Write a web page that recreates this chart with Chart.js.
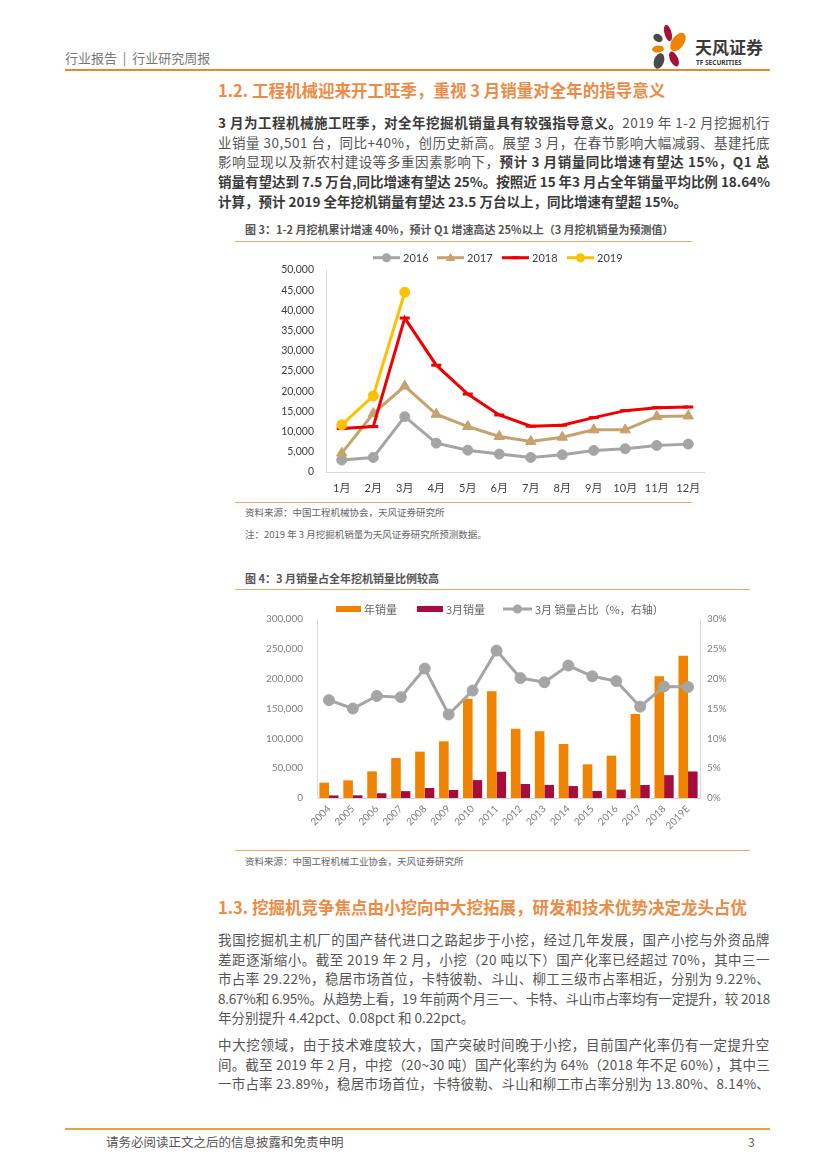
<!DOCTYPE html>
<html>
<head>
<meta charset="utf-8">
<script src="https://cdn.jsdelivr.net/npm/chart.js@4.4.1/dist/chart.umd.min.js"></script>
<style>
  html, body { margin: 0; padding: 0; background: #fff; }
  body { width: 827px; height: 1169px; position: relative; overflow: hidden;
         font-family: 'Noto Sans CJK SC', 'Noto Sans', sans-serif; color: #555; }
  .t { position: absolute; white-space: nowrap; line-height: 1; transform: translateY(-50%); }
  .rule { position: absolute; height: 0; }
  .ln { position: absolute; left: 218px; white-space: nowrap; line-height: 1;
        transform: translateY(-50%); font-size: 13.5px; color: #555; display: inline-block; }
  .ln b { color: #3a3a3a; font-weight: 700; }
  .sec { position: absolute; left: 218px; white-space: nowrap; line-height: 1; transform: translateY(-50%);
         font-size: 16.5px; font-weight: 700; color: #ED8B45; }
  .cap { position: absolute; left: 245px; white-space: nowrap; line-height: 1; transform: translateY(-50%);
         font-size: 11px; font-weight: 700; color: #555; }
  .src { position: absolute; left: 245px; white-space: nowrap; line-height: 1; transform: translateY(-50%);
         font-size: 9.5px; color: #666; }
  canvas { position: absolute; }
</style>
</head>
<body>

<!-- header -->
<div class="t" style="left:65px; top:57px; font-size:13px; color:#777;">行业报告 &nbsp;|&nbsp; 行业研究周报</div>
<svg style="position:absolute; left:640px; top:20px;" width="140" height="55">
  <ellipse cx="28" cy="13" rx="3.5" ry="8.5" fill="#A3123A" transform="rotate(-15 28 13)"/>
  <ellipse cx="38" cy="22" rx="6" ry="10.5" fill="#F08300" transform="rotate(35 38 22)"/>
  <ellipse cx="18" cy="18" rx="5" ry="3.8" fill="#4A4A4A" transform="rotate(35 18 18)"/>
  <ellipse cx="18" cy="29" rx="6" ry="3.5" fill="#F08300" transform="rotate(-5 18 29)"/>
  <ellipse cx="34" cy="39" rx="4" ry="8" fill="#A3123A" transform="rotate(-25 34 39)"/>
  <ellipse cx="19" cy="41" rx="5" ry="8" fill="#4A4A4A" transform="rotate(20 19 41)"/>
  <text x="55" y="34" font-size="17" font-weight="700" fill="#3a3a3a" font-family="Noto Sans CJK SC">天风证券</text>
  <text x="56" y="45" font-size="6.5" font-weight="700" fill="#3a3a3a" font-family="Noto Sans">TF SECURITIES</text>
</svg>
<div class="rule" style="left:65px; top:69px; width:705px; border-top:2px solid #E8892F;"></div>

<!-- section 1.2 -->
<div class="sec" style="top:90px;">1.2. 工程机械迎来开工旺季，重视 3 月销量对全年的指导意义</div>
<div class="ln j" style="top:123px;"><b>3 月为工程机械施工旺季，对全年挖掘机销量具有较强指导意义。</b>2019 年 1-2 月挖掘机行</div>
<div class="ln j" style="top:142.5px;">业销量 30,501 台，同比+40%，创历史新高。展望 3 月，在春节影响大幅减弱、基建托底</div>
<div class="ln j" style="top:162px;">影响显现以及新农村建设等多重因素影响下，<b>预计 3 月销量同比增速有望达 15%，Q1 总</b></div>
<div class="ln j" style="top:182px;"><b>销量有望达到 7.5 万台,同比增速有望达 25%。按照近 15 年3 月占全年销量平均比例 18.64%</b></div>
<div class="ln" style="top:201.5px;"><b>计算，预计 2019 全年挖机销量有望达 23.5 万台以上，同比增速有望超 15%。</b></div>

<!-- figure 3 -->
<div class="cap" style="top:229px;">图 3：1-2 月挖机累计增速 40%，预计 Q1 增速高达 25%以上（3 月挖机销量为预测值）</div>
<div class="rule" style="left:235px; top:241px; width:457px; border-top:1px solid #EFA66A;"></div>
<canvas id="c1" width="480" height="256" style="left:235px; top:245px;"></canvas>
<div class="rule" style="left:235px; top:502px; width:457px; border-top:1px solid #EFA66A;"></div>
<div class="src" style="top:513px;">资料来源：中国工程机械协会，天风证券研究所</div>
<div class="src" style="top:535px;">注：2019 年 3 月挖掘机销量为天风证券研究所预测数据。</div>

<!-- figure 4 -->
<div class="cap" style="top:578px;">图 4：3 月销量占全年挖机销量比例较高</div>
<div class="rule" style="left:235px; top:589px; width:515px; border-top:1px solid #EFA66A;"></div>
<canvas id="c2" width="500" height="252" style="left:235px; top:595px;"></canvas>
<div class="rule" style="left:235px; top:850px; width:515px; border-top:1px solid #EFA66A;"></div>
<div class="src" style="top:862px;">资料来源：中国工程机械工业协会，天风证券研究所</div>

<!-- section 1.3 -->
<div class="sec" style="top:906.5px;">1.3. 挖掘机竞争焦点由小挖向中大挖拓展，研发和技术优势决定龙头占优</div>
<div class="ln j" style="top:940px;">我国挖掘机主机厂的国产替代进口之路起步于小挖，经过几年发展，国产小挖与外资品牌</div>
<div class="ln j" style="top:959.5px;">差距逐渐缩小。截至 2019 年 2 月，小挖（20 吨以下）国产化率已经超过 70%，其中三一</div>
<div class="ln j" style="top:979px;">市占率 29.22%，稳居市场首位，卡特彼勒、斗山、柳工三级市占率相近，分别为 9.22%、</div>
<div class="ln j" style="top:998.5px;">8.67%和 6.95%。从趋势上看，19 年前两个月三一、卡特、斗山市占率均有一定提升，较 2018</div>
<div class="ln" style="top:1018px;">年分别提升 4.42pct、0.08pct 和 0.22pct。</div>
<div class="ln j" style="top:1045px;">中大挖领域，由于技术难度较大，国产突破时间晚于小挖，目前国产化率仍有一定提升空</div>
<div class="ln j" style="top:1064.5px;">间。截至 2019 年 2 月，中挖（20~30 吨）国产化率约为 64%（2018 年不足 60%），其中三</div>
<div class="ln j" style="top:1084px;">一市占率 23.89%，稳居市场首位，卡特彼勒、斗山和柳工市占率分别为 13.80%、8.14%、</div>

<!-- footer -->
<div class="rule" style="left:65px; top:1128px; width:705px; border-top:2px solid #EBA13A;"></div>
<div class="t" style="left:106px; top:1142px; font-size:12.5px; color:#555;">请务必阅读正文之后的信息披露和免责申明</div>
<div class="t" style="left:748px; top:1142px; font-size:12px; color:#666;">3</div>

<script>
// 图3 data
const months = ['1月', '2月', '3月', '4月', '5月', '6月', '7月', '8月', '9月', '10月', '11月', '12月'];
const sales2016 = [2960, 3600, 13700, 7150, 5400, 4430, 3600, 4270, 5340, 5750, 6570, 6900];
const sales2017 = [4680, 14450, 21270, 14290, 11250, 8790, 7550, 8620, 10430, 10430, 13710, 13880];
const sales2018 = [10750, 11250, 38100, 26440, 19300, 14120, 11330, 11580, 13460, 15190, 15930, 16090];
const sales2019 = [11660, 18840, 44500];

// 图4 data
const years = ['2004', '2005', '2006', '2007', '2008', '2009', '2010', '2011', '2012', '2013', '2014', '2015', '2016', '2017', '2018', '2019E'];
const annualSales = [25700, 29600, 44700, 67000, 77700, 95000, 166500, 178800, 116000, 112000, 90500, 56400, 71000, 140800, 204000, 238500];
const marchSales = [4300, 4500, 8000, 11500, 16800, 13400, 30000, 44000, 23500, 22000, 20000, 11700, 14000, 21800, 38300, 44500];
const marchShare = [16.4, 15.0, 17.1, 16.9, 21.7, 14.0, 18.0, 24.7, 20.1, 19.4, 22.2, 20.4, 19.6, 15.3, 18.7, 18.6];

// line up the body text to the column width
document.fonts.ready.then(() => {
  document.querySelectorAll('.ln.j').forEach(el => {
    const w = el.getBoundingClientRect().width;
    const n = el.textContent.length;
    el.style.letterSpacing = ((552 - w) / n) + 'px';
  });
});

Chart.defaults.font.family = "Lato, 'Noto Sans CJK SC', sans-serif";

function drawMarker(ctx, style, x, y, r, color) {
  ctx.fillStyle = color;
  ctx.strokeStyle = color;
  ctx.beginPath();
  if (style === 'circle') {
    ctx.arc(x, y, r, 0, Math.PI * 2);
    ctx.fill();
  } else if (style === 'triangle') {
    ctx.moveTo(x, y - r);
    ctx.lineTo(x + r * 0.95, y + r * 0.65);
    ctx.lineTo(x - r * 0.95, y + r * 0.65);
    ctx.closePath();
    ctx.fill();
  } else if (style === 'line') {
    ctx.lineWidth = 3;
    ctx.moveTo(x - r, y);
    ctx.lineTo(x + r, y);
    ctx.stroke();
  }
}

// legend laid out like the Excel one
const manualLegend = {
  id: 'manualLegend',
  afterDraw(chart, args, opts) {
    const ctx = chart.ctx;
    ctx.save();
    ctx.font = opts.font;
    ctx.textBaseline = 'middle';
    opts.items.forEach(it => {
      const ds = chart.data.datasets[it.ds];
      const color = ds.borderColor || ds.backgroundColor;
      if (it.kind === 'box') {
        ctx.fillStyle = ds.backgroundColor;
        ctx.fillRect(it.x, opts.y - 3, it.w, 6);
      } else {
        ctx.strokeStyle = color;
        ctx.lineWidth = 3;
        ctx.beginPath();
        ctx.moveTo(it.x, opts.y);
        ctx.lineTo(it.x + it.w, opts.y);
        ctx.stroke();
        drawMarker(ctx, ds.pointStyle, it.x + it.w / 2, opts.y, it.r, color);
      }
      ctx.fillStyle = opts.color;
      ctx.fillText(ds.label, it.x + it.w + 3, opts.y + 0.5);
    });
    ctx.restore();
  }
};

new Chart(document.getElementById('c1'), {
  type: 'line',
  data: {
    labels: months,
    datasets: [
      { label: '2016', data: sales2016, borderColor: '#A5A5A5', backgroundColor: '#A5A5A5',
        pointStyle: 'circle', pointRadius: 5, pointBorderWidth: 1, borderWidth: 3, order: 4 },
      { label: '2017', data: sales2017, borderColor: '#C6A26D', backgroundColor: '#C6A26D',
        pointStyle: 'triangle', pointRadius: 6, pointBorderWidth: 1, borderWidth: 3, order: 3 },
      { label: '2018', data: sales2018, borderColor: '#F00000', backgroundColor: '#F00000',
        pointStyle: 'line', pointRadius: 5, pointBorderWidth: 3, borderWidth: 3, order: 2 },
      { label: '2019', data: sales2019, borderColor: '#FFC000', backgroundColor: '#FFC000',
        pointStyle: 'circle', pointRadius: 5, pointBorderWidth: 1, borderWidth: 3, order: 1 },
    ],
  },
  options: {
    responsive: false,
    animation: false,
    layout: { padding: { top: 25, right: 11, left: 0, bottom: 0 } },
    elements: { line: { tension: 0 } },
    plugins: {
      legend: { display: false },
      tooltip: { enabled: false },
      manualLegend: {
        y: 12.7, font: "11px Lato, 'Noto Sans CJK SC'", color: '#404040',
        items: [
          { ds: 0, x: 138, w: 27, r: 4.5 },
          { ds: 1, x: 202, w: 27, r: 5 },
          { ds: 2, x: 267, w: 27, r: 4 },
          { ds: 3, x: 332, w: 27, r: 4.5 },
        ],
      },
    },
    scales: {
      x: {
        offset: true,
        grid: { display: false, drawTicks: false },
        border: { color: '#D9D9D9', width: 1 },
        ticks: { padding: 10, color: '#404040', font: { size: 11 } },
        afterFit: (s) => { s.height = 29; },
      },
      y: {
        min: 0, max: 50000,
        grid: { display: false, drawTicks: false },
        border: { color: '#D9D9D9', width: 1 },
        ticks: { stepSize: 5000, padding: 12, color: '#404040', font: { size: 10.5 },
                 callback: (v) => v.toLocaleString('en-US') },
        afterFit: (s) => { s.width = 91; },
      },
    },
  },
  plugins: [manualLegend],
});

new Chart(document.getElementById('c2'), {
  data: {
    labels: years,
    datasets: [
      { type: 'line', label: '3月 销量占比（%，右轴）', data: marchShare, yAxisID: 'y1',
        borderColor: '#A5A5A5', backgroundColor: '#A5A5A5', borderWidth: 3,
        pointStyle: 'circle', pointRadius: 5.5, pointBorderWidth: 1, tension: 0, order: 0 },
      { type: 'bar', label: '年销量', data: annualSales, yAxisID: 'y',
        backgroundColor: '#F08300', categoryPercentage: 0.8, barPercentage: 1, order: 1 },
      { type: 'bar', label: '3月销量', data: marchSales, yAxisID: 'y',
        backgroundColor: '#A50D3C', categoryPercentage: 0.8, barPercentage: 1, order: 1 },
    ],
  },
  options: {
    responsive: false,
    animation: false,
    layout: { padding: { top: 24, right: 0, left: 0, bottom: 0 } },
    plugins: {
      legend: { display: false },
      tooltip: { enabled: false },
      manualLegend: {
        y: 14, font: "11px 'Noto Sans CJK SC', Lato", color: '#666',
        items: [
          { ds: 1, x: 101, w: 25, kind: 'box' },
          { ds: 2, x: 182, w: 26, kind: 'box' },
          { ds: 0, x: 268, w: 29, r: 4.5 },
        ],
      },
    },
    scales: {
      x: {
        grid: { display: false, drawTicks: false },
        border: { color: '#D9D9D9', width: 1 },
        ticks: { minRotation: 45, maxRotation: 45, padding: 5, color: '#808080', font: { size: 10 } },
        afterFit: (s) => { s.height = 49; },
      },
      y: {
        position: 'left', min: 0, max: 300000,
        grid: { display: false, drawTicks: false },
        border: { color: '#D9D9D9', width: 1 },
        ticks: { stepSize: 50000, padding: 14, color: '#808080', font: { size: 10 },
                 callback: (v) => v.toLocaleString('en-US') },
        afterFit: (s) => { s.width = 82; },
      },
      y1: {
        position: 'right', min: 0, max: 30,
        grid: { display: false, drawTicks: false },
        border: { color: '#D9D9D9', width: 1 },
        ticks: { stepSize: 5, padding: 7, color: '#808080', font: { size: 10 },
                 callback: (v) => v + '%' },
        afterFit: (s) => { s.width = 35; },
      },
    },
  },
  plugins: [manualLegend],
});
</script>
</body>
</html>
